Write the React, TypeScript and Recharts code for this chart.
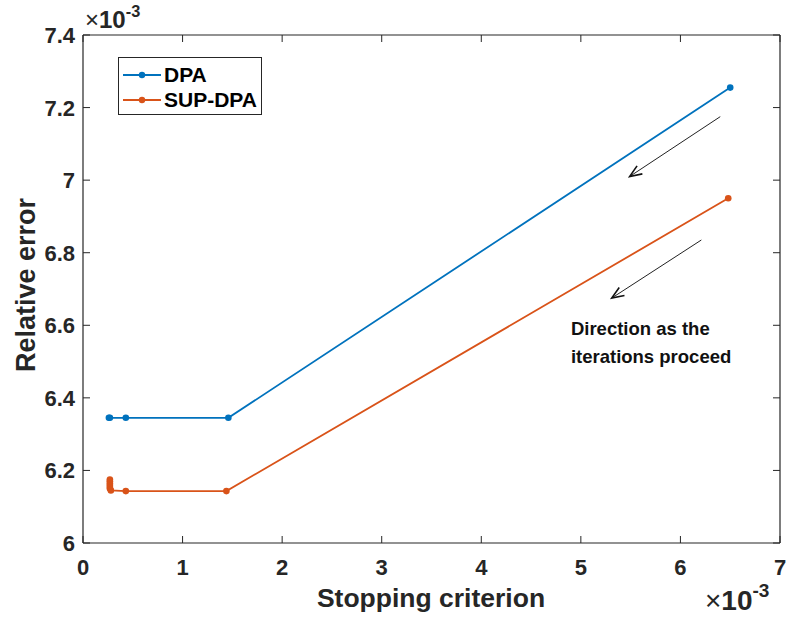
import React from "react";
import { LineChart, Line, XAxis, YAxis, ReferenceLine, ReferenceDot } from "recharts";

// values are in units of 1e-3
const dpaX = [6.5, 1.46, 0.43, 0.27, 0.26];
const dpaY = [7.255, 6.345, 6.345, 6.345, 6.345];

const supX = [6.48, 1.44, 0.43, 0.28, 0.27, 0.27, 0.27, 0.27, 0.27, 0.27];
const supY = [6.95, 6.143, 6.143, 6.145, 6.15, 6.155, 6.16, 6.165, 6.17, 6.175];

const xTicks = [0, 1, 2, 3, 4, 5, 6, 7];
const yTicks = [6, 6.2, 6.4, 6.6, 6.8, 7, 7.2, 7.4];

// arrows: [x1, y1, x2, y2]
const arrows = [
  [6.4, 7.175, 5.49, 7.01],
  [6.21, 6.835, 5.31, 6.675],
];
const noteLines = ["Direction as the", "iterations proceed"];
const notePos = { x: 4.9, y: 6.592 };

const BLUE = "#0072BD";
const ORANGE = "#D95319";
const INK = "#262626";
const FONT = "'Liberation Sans', Arial, sans-serif";

const dpa = dpaX.map((x, i) => ({ x, y: dpaY[i] }));
const sup = supX.map((x, i) => ({ x, y: supY[i] }));

const series = [
  { name: "DPA", color: BLUE },
  { name: "SUP-DPA", color: ORANGE },
];

function BottomTick(p: any) {
  return (
    <g>
      <line x1={p.x} y1={p.y} x2={p.x} y2={p.y - 7} stroke={INK} />
      <text x={p.x} y={p.y + 32} textAnchor="middle" fontSize={22} fontWeight="bold" fill={INK} fontFamily={FONT}>
        {p.payload.value}
      </text>
    </g>
  );
}

function TopTick(p: any) {
  return <line x1={p.x} y1={p.y} x2={p.x} y2={p.y + 7} stroke={INK} />;
}

function LeftTick(p: any) {
  return (
    <g>
      <line x1={p.x} y1={p.y} x2={p.x + 7} y2={p.y} stroke={INK} />
      <text x={p.x - 8} y={p.y + 8} textAnchor="end" fontSize={22} fontWeight="bold" fill={INK} fontFamily={FONT}>
        {p.payload.value}
      </text>
    </g>
  );
}

function RightTick(p: any) {
  return <line x1={p.x} y1={p.y} x2={p.x - 7} y2={p.y} stroke={INK} />;
}

function Arrow(p: any) {
  const { x1, y1, x2, y2 } = p;
  const a = Math.atan2(y2 - y1, x2 - x1);
  const L = 13;
  const w = 0.38;
  const h1x = x2 - L * Math.cos(a - w);
  const h1y = y2 - L * Math.sin(a - w);
  const h2x = x2 - L * Math.cos(a + w);
  const h2y = y2 - L * Math.sin(a + w);
  return (
    <g>
      <line x1={x1} y1={y1} x2={x2} y2={y2} stroke="#222" strokeWidth={1} />
      <path d={`M${h1x},${h1y} L${x2},${y2} L${h2x},${h2y}`} fill="none" stroke="#111" strokeWidth={1.6} />
    </g>
  );
}

function Note(p: any) {
  return (
    <g>
      {noteLines.map((t, i) => (
        <text key={t} x={p.cx} y={p.cy + 7 + i * 28} fontSize={18.5} fontWeight="bold" fill="#111" fontFamily={FONT}>
          {t}
        </text>
      ))}
    </g>
  );
}

function LegendBox() {
  return (
    <div
      style={{
        position: "absolute",
        left: 118,
        top: 57,
        border: `1.5px solid ${INK}`,
        background: "white",
        width: 144,
        height: 58,
        boxSizing: "border-box",
        padding: "4px 0 0 3px",
        fontFamily: FONT,
        fontWeight: "bold",
        fontSize: 21,
        color: "#000",
      }}
    >
      {series.map((s) => (
        <div key={s.name} style={{ display: "flex", alignItems: "center", height: 25 }}>
          <svg width={40} height={10}>
            <line x1={1} y1={5} x2={39} y2={5} stroke={s.color} strokeWidth={1.8} />
            <circle cx={20} cy={5} r={3.2} fill={s.color} />
          </svg>
          <span style={{ marginLeft: 2, lineHeight: "25px" }}>{s.name}</span>
        </div>
      ))}
    </div>
  );
}

function Exponent({ x, y, size }: { x: number; y: number; size: number }) {
  return (
    <text x={x} y={y} fontFamily={FONT} fontSize={size} fill={INK}>
      <tspan>×</tspan>
      <tspan fontWeight="bold">10</tspan>
      <tspan fontWeight="bold" fontSize={size * 0.68} dy={-size * 0.45}>-3</tspan>
    </text>
  );
}

export default function App() {
  return (
    <div style={{ position: "absolute", left: 0, top: 0, width: 787, height: 619, background: "white" }}>
      <LineChart width={787} height={619} margin={{ top: 34, right: 6, left: 13, bottom: 46 }}>
        <XAxis
          xAxisId="b"
          dataKey="x"
          type="number"
          domain={[0, 7]}
          ticks={xTicks}
          allowDataOverflow
          tickLine={false}
          tickSize={0}
          tickMargin={0}
          tick={BottomTick}
          axisLine={{ stroke: INK, strokeWidth: 1.2 }}
          height={30}
        />
        <XAxis
          xAxisId="t"
          orientation="top"
          dataKey="x"
          type="number"
          domain={[0, 7]}
          ticks={xTicks}
          allowDataOverflow
          tickLine={false}
          tickSize={0}
          tickMargin={0}
          tick={TopTick}
          axisLine={{ stroke: INK, strokeWidth: 1.2 }}
          height={1}
        />
        <YAxis
          yAxisId="l"
          type="number"
          domain={[6, 7.4]}
          ticks={yTicks}
          allowDataOverflow
          tickLine={false}
          tickSize={0}
          tickMargin={0}
          tick={LeftTick}
          axisLine={{ stroke: INK, strokeWidth: 1.2 }}
          width={70}
        />
        <YAxis
          yAxisId="r"
          orientation="right"
          type="number"
          domain={[6, 7.4]}
          ticks={yTicks}
          allowDataOverflow
          tickLine={false}
          tickSize={0}
          tickMargin={0}
          tick={RightTick}
          axisLine={{ stroke: INK, strokeWidth: 1.2 }}
          width={1}
        />
        <Line
          xAxisId="b"
          yAxisId="l"
          data={dpa}
          dataKey="y"
          name="DPA"
          stroke={BLUE}
          strokeWidth={1.8}
          dot={{ r: 3.3, fill: BLUE, stroke: BLUE, strokeWidth: 0 }}
          isAnimationActive={false}
        />
        <Line
          xAxisId="b"
          yAxisId="l"
          data={sup}
          dataKey="y"
          name="SUP-DPA"
          stroke={ORANGE}
          strokeWidth={1.8}
          dot={{ r: 3.3, fill: ORANGE, stroke: ORANGE, strokeWidth: 0 }}
          isAnimationActive={false}
        />
        {arrows.map((a, i) => (
          <ReferenceLine
            key={i}
            xAxisId="b"
            yAxisId="l"
            segment={[
              { x: a[0], y: a[1] },
              { x: a[2], y: a[3] },
            ]}
            shape={Arrow}
            ifOverflow="visible"
          />
        ))}
        <ReferenceDot xAxisId="b" yAxisId="l" x={notePos.x} y={notePos.y} r={0} shape={Note} ifOverflow="visible" />
      </LineChart>
      <LegendBox />
      <svg width={787} height={619} style={{ position: "absolute", left: 0, top: 0, pointerEvents: "none" }}>
        <Exponent x={85} y={28} size={24} />
        <Exponent x={705} y={610} size={28} />
        <text x={431} y={607} textAnchor="middle" fontFamily={FONT} fontWeight="bold" fontSize={26.5} fill={INK}>
          Stopping criterion
        </text>
        <text
          x={35}
          y={285}
          transform="rotate(-90 35 285)"
          textAnchor="middle"
          fontFamily={FONT}
          fontWeight="bold"
          fontSize={27}
          fill={INK}
        >
          Relative error
        </text>
      </svg>
    </div>
  );
}
